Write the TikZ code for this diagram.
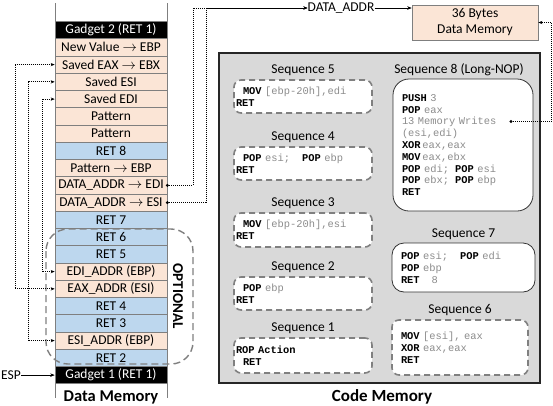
\documentclass[tikz,border=0pt]{standalone}
\usepackage{fontspec}
\setmainfont{Carlito}
\newfontfamily\codefont{Liberation Mono}
\usepackage{tikz}
\usetikzlibrary{arrows.meta,positioning}
\definecolor{pch}{HTML}{FBE5D6}
\definecolor{blu}{HTML}{BDD7EE}
\definecolor{cellline}{HTML}{7F7F7F}
\definecolor{codebg}{HTML}{D9D9D9}
\definecolor{operand}{HTML}{8C8C8C}
\definecolor{dashgray}{HTML}{808080}
\newcommand{\kw}[1]{{\color{black}\bfseries #1}}
\newcommand{\ind}{\hspace*{7pt}}
\tikzset{cell/.style={draw=cellline,line width=.6pt,minimum width=112pt,minimum height=17.25pt,inner sep=0pt,font=\fontsize{13.5}{15}\selectfont},
 lbl/.style={inner sep=0pt,font=\fontsize{13.5}{16}\selectfont},
 code/.style={align=left,inner ysep=0pt,text=operand,font=\codefont\fontsize{10.4}{11.8}\selectfont},
 seqdash/.style={code,fill=white,draw=dashgray,line width=1.6pt,dash pattern=on 6pt off 4pt,rounded corners=7pt},
 seqsolid/.style={code,fill=white,draw=black!80,line width=.8pt,rounded corners=12pt},
 dotlink/.style={-{Stealth[length=4pt,width=3.2pt]},line width=.8pt,dash pattern=on 1pt off 1pt},
 dotboth/.style={dotlink,{Stealth[length=4pt,width=3.2pt]}-{Stealth[length=4pt,width=3.2pt]}},
 solidlink/.style={-{Stealth[length=4.5pt,width=3.5pt]},line width=.6pt}}
\begin{document}
\begin{tikzpicture}[x=1pt,y=-1pt]
 \useasboundingbox[fill=white] (0,0) rectangle (553,405);
 % data memory stack
 \draw[cellline,line width=.6pt] (55,3)--(55,398) (167,3)--(167,398);
 \foreach \t/\c/\f [count=\i from 0] in {Gadget 2 (RET 1)/black/white,New Value $\rightarrow$ EBP/pch/black,Saved EAX $\rightarrow$ EBX/pch/black,Saved ESI/pch/black,Saved EDI/pch/black,Pattern/pch/black,Pattern/pch/black,RET 8/blu/black,Pattern $\rightarrow$ EBP/pch/black,DATA\_ADDR $\rightarrow$ EDI/pch/black,DATA\_ADDR $\rightarrow$ ESI/pch/black,RET 7/blu/black,RET 6/blu/black,RET 5/blu/black,EDI\_ADDR (EBP)/pch/black,EAX\_ADDR (ESI)/pch/black,RET 4/blu/black,RET 3/blu/black,ESI\_ADDR (EBP)/pch/black,RET 2/blu/black,Gadget 1 (RET 1)/black/white}
  \node[cell,fill=\c,text=\f] (c\i) at (111,{30.1+17.25*\i}) {\t};
 \draw[dashgray,line width=1.4pt,dash pattern=on 7pt off 4pt,rounded corners=22pt] (46,229) rectangle (193,364);
 \node[lbl,rotate=-90,font=\fontsize{15}{16}\selectfont\bfseries] (opt) at (178,296) {OPTIONAL};
 \node[lbl] (esp) at (11,375.1) {ESP};
 \node[lbl,font=\fontsize{16.5}{18}\selectfont\bfseries] (dmem) at (111,397) {Data Memory};
 % code memory
 \draw[fill=codebg,draw=black!85,line width=1.4pt] (219,53) rectangle (540,383);
 \node[lbl,font=\fontsize{17}{18}\selectfont\bfseries] (cmem) at (382,397) {Code Memory};
 \node[seqdash,inner xsep=2pt,text width=134pt,minimum height=33pt] (s5) at (303,96.5) {\ind\kw{MOV} [ebp-20h],edi\\\kw{RET}};
 \node[seqdash,inner xsep=2pt,text width=134pt,minimum height=33pt] (s4) at (303,163.5) {\ind\kw{POP} esi;\hspace*{12pt}\kw{POP} ebp\\\kw{RET}};
 \node[seqdash,inner xsep=2pt,text width=134pt,minimum height=34pt] (s3) at (303,230) {\ind\kw{MOV} [ebp-20h],esi\\\kw{RET}};
 \node[seqdash,inner xsep=2pt,text width=134pt,minimum height=33pt] (s2) at (303,293.5) {\ind\kw{POP} ebp\\\kw{RET}};
 \node[seqdash,inner xsep=2pt,text width=134pt,minimum height=35pt] (s1) at (303,355.5) {\kw{ROP Action}\\\ind\kw{RET}};
 \node[seqsolid,rounded corners=16pt,inner xsep=9pt,text width=122pt,minimum height=132pt] (s8) at (463,145) {\kw{PUSH} 3\\\kw{POP} eax\\13 Memory Writes\\(esi,edi)\\\kw{XOR}\,eax,eax\\\kw{MOV}\,eax,ebx\\\kw{POP} edi;\hspace*{6pt}\kw{POP} esi\\\kw{POP} ebx;\hspace*{6pt}\kw{POP} ebp\\\kw{RET}};
 \node[seqsolid,inner xsep=9pt,text width=125pt,minimum height=49pt] (s7) at (463.5,267.5) {\kw{POP} esi;\hspace*{12pt}\kw{POP} edi\\\kw{POP} ebp\\\kw{RET}\hspace*{12pt}8};
 \node[seqdash,inner xsep=9pt,text width=118pt,minimum height=55pt] (s6) at (460,347.5) {\kw{MOV} [esi], eax\\\kw{XOR} eax,eax\\\kw{RET}};
 \foreach \s/\n in {s5/5,s4/4,s3/3,s2/2,s1/1,s7/7,s6/6}
  \node[lbl,above=3pt of \s] {Sequence \n};
 \node[lbl,above=3pt of s8,xshift=-4pt] {Sequence 8 (Long-NOP)};
 % 36 bytes target
 \node[lbl,draw=cellline,line width=.6pt,fill=pch,minimum width=126pt,minimum height=35pt,align=center] (mem) at (475,22.5) {36 Bytes\\Data Memory};
 \node[lbl] (da) at (341,8) {DATA\_ADDR};
 \coordinate (xl1) at (15,0); \coordinate (xl2) at (28,0); \coordinate (xl3) at (42,0);
 \coordinate (xr1) at (193,0); \coordinate (xr2) at (206,0); \coordinate (xr3) at (551.5,0);
 \coordinate (mw) at (511,121.5);
 % connectors
 \draw[dotboth] (c2.west) -- (c2.west -| xl1) |- (c15.west);
 \draw[dotboth] (c3.west) -- (c3.west -| xl2) |- (c18.west);
 \draw[dotboth] (c4.west) -- (c4.west -| xl3) |- (c14.west);
 \draw[dotlink] (c9.east) -- (c9.east -| xr1) |- (da.west);
 \draw[dotlink] (c10.east) -- (c10.east -| xr2) |- (da.west);
 \fill (c9.east) circle (1.6) (c10.east) circle (1.6) (mw) circle (1.6);
 \draw[solidlink] (da.east) -- (da.east -| mem.west);
 \draw[dotlink] (mw) -- (mw -| xr3) |- (mem.east);
 \draw[solidlink] (esp.east) -- (c20.west);
\end{tikzpicture}
\end{document}
